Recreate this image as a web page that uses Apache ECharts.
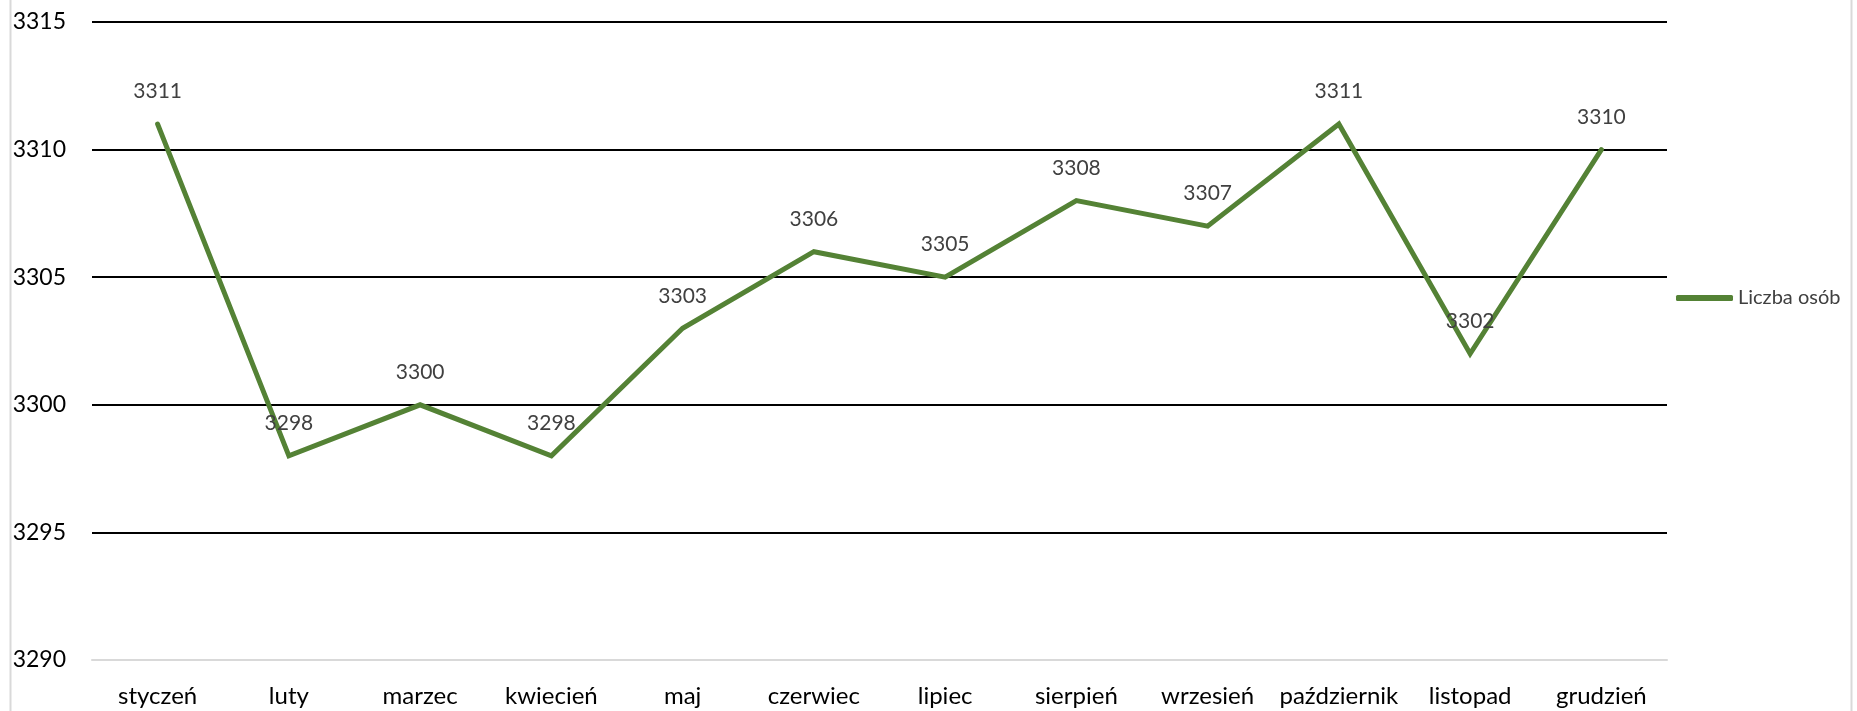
<!DOCTYPE html>
<html><head><meta charset="utf-8">
<script src="https://cdn.jsdelivr.net/npm/echarts@6/dist/echarts.min.js"></script>
<style>html,body{margin:0;padding:0;background:#fff}#c{width:1857px;height:711px}</style>
</head><body><div id="c"></div>
<script>
const categories = ['styczeń','luty','marzec','kwiecień','maj','czerwiec','lipiec','sierpień','wrzesień','październik','listopad','grudzień'];
const values = [3311, 3298, 3300, 3298, 3303, 3306, 3305, 3308, 3307, 3311, 3302, 3310];
const seriesName = 'Liczba osób';
const yMin = 3290, yMax = 3315, yStep = 5;

const chart = echarts.init(document.getElementById('c'), null, {renderer:'canvas'});
const font = 'Lato, "Open Sans", sans-serif';
chart.setOption({
  animation:false,
  backgroundColor:'#fff',
  textStyle:{fontFamily:font},
  grid:{left:92, right:190, top:22, bottom:51, containLabel:false},
  legend:{
    data:[seriesName], left:1676, top:288, orient:'vertical', padding:0,
    itemWidth:57, itemHeight:6, itemGap:4,
    icon:'roundRect',
    itemStyle:{color:'#548235', opacity:1},
    textStyle:{fontSize:20, color:'#404040', fontFamily:font}
  },
  xAxis:{
    type:'category', data:categories, boundaryGap:true,
    axisLine:{show:true, lineStyle:{color:'#d9d9d9', width:2}},
    axisTick:{show:false},
    axisLabel:{fontSize:24, color:'#000', margin:24, fontFamily:font, interval:0}
  },
  yAxis:{
    type:'value', min:yMin, max:yMax, interval:yStep,
    axisLine:{show:false}, axisTick:{show:false},
    axisLabel:{fontSize:23, color:'#000', margin:26, fontFamily:font, formatter: v => String(v)},
    splitLine:{show:true, lineStyle:{color:'#000', width:2}}
  },
  series:[{
    name:seriesName, type:'line', data:values,
    symbol:'circle', symbolSize:2, showSymbol:true,
    lineStyle:{color:'#548235', width:5, cap:'round', join:'miter'},
    itemStyle:{color:'#548235'},
    label:{show:true, position:'top', distance:21, fontSize:21, color:'#404040', fontFamily:font},
    labelLayout:{hideOverlap:false},
    z:3
  }],
  graphic:[
    {type:'line', shape:{x1:10.5,y1:0,x2:10.5,y2:711}, style:{stroke:'#d9d9d9', lineWidth:2}},
    {type:'line', shape:{x1:1851.5,y1:0,x2:1851.5,y2:711}, style:{stroke:'#d9d9d9', lineWidth:2}}
  ]
});
</script></body></html>
